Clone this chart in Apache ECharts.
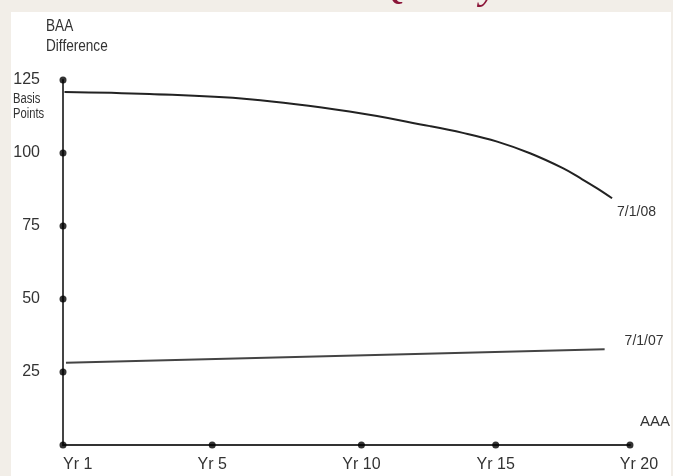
<!DOCTYPE html>
<html>
<head>
<meta charset="utf-8">
<script src="https://cdn.jsdelivr.net/npm/echarts@6/dist/echarts.min.js"></script>
<style>
html,body{margin:0;padding:0;background:#f2eee8;}
#c{width:673px;height:476px;}
</style>
</head>
<body>
<div id="c"></div>
<script>
// Axis ticks (x in horizontal position units along the axis)
const xTickPos = [0, 10, 20, 29, 38];
const xTickLabels = ['Yr 1', 'Yr 5', 'Yr 10', 'Yr 15', 'Yr 20'];
const yTicks = [25, 50, 75, 100, 125];

// 7/1/08 curve
const curve08X = [0.1, 5.8, 12.5, 19.2, 24.6, 26.8, 29.1, 31.3, 33.5, 34.7, 35.8, 36.8];
const curve08Y = [120.9, 120.2, 118.4, 114.2, 109.2, 106.9, 103.9, 99.9, 94.8, 91.3, 87.9, 84.5];

// 7/1/07 line
const line07X = [0.2, 36.3];
const line07Y = [28.2, 32.8];

const FONT = "'Liberation Sans', Arial, sans-serif";

const pts = (xs, ys) => xs.map((x, i) => [x, ys[i]]);
const dots = [[0, 0]].concat(yTicks.map(v => [0, v])).concat(xTickPos.slice(1).map(p => [p, 0]));

const chart = echarts.init(document.getElementById('c'));
chart.setOption({
  backgroundColor: '#f2eee8',
  animation: false,
  graphic: [
    { type: 'text', left: 378, top: -33, z: -200,
      style: { text: 'Quality', font: "italic 40px 'Liberation Serif', serif", fill: '#8b1538' } },
    { type: 'rect', z: -100, shape: { x: 11, y: 12, width: 660, height: 470 }, style: { fill: '#ffffff' } },
    { type: 'text', x: 46, y: 16, scaleX: 0.8, z: 10,
      style: { text: 'BAA\nDifference', font: '17px ' + FONT, fill: '#333', lineHeight: 20 } },
    { type: 'text', x: 13, y: 92, scaleX: 0.8, z: 10,
      style: { text: 'Basis\nPoints', font: '14px ' + FONT, fill: '#333', lineHeight: 15 } }
  ],
  grid: { left: 63, right: 43, top: 80, bottom: 31, containLabel: false },
  xAxis: {
    type: 'value', min: 0, max: 38,
    name: 'AAA', nameLocation: 'end', nameGap: 10,
    nameTextStyle: { fontFamily: FONT, fontSize: 15, color: '#333', align: 'left', verticalAlign: 'bottom', padding: [0, 0, 16, 0] },
    splitLine: { show: false },
    axisLine: { lineStyle: { color: '#333', width: 2 } },
    axisTick: { show: false },
    axisLabel: {
      customValues: xTickPos,
      formatter: v => {
        const i = xTickPos.indexOf(v);
        const t = i >= 0 ? xTickLabels[i] : '';
        return i === xTickPos.length - 1 ? '{e|' + t + '}' : t;
      },
      fontFamily: FONT, fontSize: 16, color: '#333', margin: 12,
      alignMinLabel: 'left',
      rich: { e: { fontFamily: FONT, fontSize: 16, color: '#333', padding: [0, 0, 0, 18] } }
    }
  },
  yAxis: {
    type: 'value', min: 0, max: 125, interval: 25,
    splitLine: { show: false },
    axisLine: { show: true, lineStyle: { color: '#444', width: 2 } },
    axisTick: { show: false },
    axisLabel: { showMinLabel: false, fontFamily: FONT, fontSize: 16, color: '#333', margin: 23 }
  },
  series: [
    {
      name: '7/1/08', type: 'line', data: pts(curve08X, curve08Y), smooth: 0.4,
      showSymbol: false, lineStyle: { color: '#222', width: 2 }, z: 5,
      endLabel: { show: true, formatter: '{a}', fontFamily: FONT, fontSize: 14, color: '#333', distance: 5, offset: [0, 14] }
    },
    {
      name: '7/1/07', type: 'line', data: pts(line07X, line07Y),
      showSymbol: false, lineStyle: { color: '#444', width: 2 }, z: 5,
      endLabel: { show: true, formatter: '{a}', fontFamily: FONT, fontSize: 14, color: '#333', distance: 20, offset: [0, -8] }
    },
    {
      type: 'scatter', data: dots, symbolSize: 7, itemStyle: { color: '#000' }, z: 6, silent: true
    }
  ]
});
</script>
</body>
</html>
